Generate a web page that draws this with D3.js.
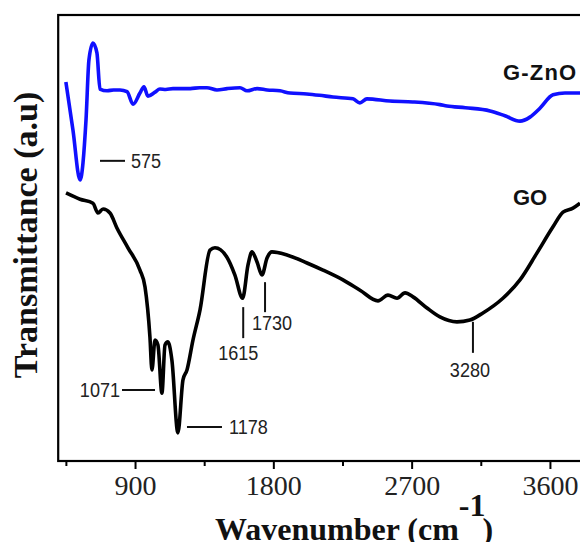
<!DOCTYPE html>
<html>
<head>
<meta charset="utf-8">
<script src="https://cdn.jsdelivr.net/npm/d3@7/dist/d3.min.js"></script>
<style>
  html, body { margin: 0; padding: 0; background: #fff; }
  svg { display: block; }
</style>
</head>
<body>
<svg id="chart" width="580" height="542"></svg>
<script>
// G-ZnO trace (wavenumber cm-1, transmittance a.u.)
const gznoW = [450, 496, 542, 581, 600, 626, 652, 672, 718, 760, 802, 848, 887, 932, 958, 984, 1030, 1062, 1100, 1147, 1200, 1260, 1320, 1368, 1433, 1500, 1583, 1629, 1694, 1760, 1843, 1908, 2018, 2100, 2188, 2318, 2363, 2409, 2559, 2708, 2884, 2930, 3050, 3210, 3307, 3405, 3470, 3535, 3620, 3698, 3796];
const gznoT = [85.0, 74.2, 63.0, 76.5, 89.9, 93.7, 91.5, 83.4, 83.0, 83.2, 83.2, 82.8, 80.0, 82.5, 83.9, 81.8, 82.7, 83.4, 83.3, 83.5, 83.5, 83.5, 83.7, 83.7, 83.2, 83.5, 83.7, 83.0, 83.5, 83.2, 83.0, 82.5, 82.3, 82.0, 81.6, 81.2, 80.3, 81.2, 80.7, 80.5, 79.9, 79.6, 79.2, 78.5, 77.4, 76.2, 77.1, 79.1, 82.1, 82.5, 82.5];

// GO trace
const goW = [451, 542, 626, 659, 692, 737, 783, 854, 932, 965, 997, 1010, 1030, 1049, 1075, 1095, 1114, 1140, 1179, 1212, 1238, 1277, 1323, 1388, 1420, 1498, 1550, 1600, 1635, 1661, 1694, 1726, 1759, 1791, 1889, 2019, 2123, 2253, 2364, 2481, 2546, 2605, 2657, 2709, 2800, 2884, 2995, 3079, 3164, 3294, 3405, 3515, 3620, 3685, 3750, 3796];
const goT = [60.1, 58.7, 57.8, 55.6, 56.5, 55.6, 52.2, 47.8, 42.8, 39.0, 27.8, 20.4, 27.1, 26.0, 15.2, 26.0, 26.7, 22.6, 6.3, 18.2, 20.4, 27.1, 33.9, 47.3, 47.8, 45.7, 41.7, 36.5, 43.9, 46.9, 44.6, 41.7, 45.5, 46.9, 46.2, 44.4, 42.8, 40.6, 38.3, 35.9, 37.2, 36.5, 37.7, 36.8, 34.3, 32.3, 31.2, 31.6, 33.2, 36.5, 40.6, 46.6, 52.5, 55.8, 56.7, 57.8];

// peak annotations: label and where the leader touches the trace
const peakLabels = ['575', '1071', '1178', '1615', '1730', '3280'];
const peakW = [672, 1030, 1238, 1604, 1746, 3099];
const peakT = [67.3, 15.9, 7.6, 34.5, 40.1, 31.2];
const peakDir = ['right', 'left', 'right', 'down', 'down', 'down'];

const majorTicks = [900, 1800, 2700, 3600];
const minorTicks = [450, 1350, 2250, 3150];

// leader geometry in px: line length, text dx, text dy
const annLayout = [
  { len: 25, dx: 6, dy: 7 },
  { len: 33, dx: -2, dy: 7 },
  { len: 35, dx: 7, dy: 7 },
  { len: 31, dx: -5, dy: 22 },
  { len: 30, dx: 7, dy: 18 },
  { len: 31, dx: -3, dy: 24 }
];

const svg = d3.select('#chart');
const x = d3.scaleLinear().domain([400, 4000]).range([58.2, 611.4]);
const y = d3.scaleLinear().domain([0, 100]).range([461, 15]);

const line = d3.line()
  .x(d => x(d[0]))
  .y(d => y(d[1]))
  .curve(d3.curveMonotoneX);

// frame
svg.append('rect')
  .attr('x', x(400)).attr('y', y(100))
  .attr('width', x(4000) - x(400)).attr('height', y(0) - y(100))
  .attr('fill', 'none').attr('stroke', '#000').attr('stroke-width', 2.2);

// bottom axis
const xAxis = d3.axisBottom(x).tickValues(majorTicks).tickSize(8).tickPadding(6).tickFormat(d3.format('d'));
const gx = svg.append('g').attr('transform', `translate(0,${y(0)})`).call(xAxis);
gx.select('.domain').remove();
gx.selectAll('line').attr('stroke', '#000').attr('stroke-width', 2);
gx.selectAll('text')
  .attr('font-family', '"Liberation Serif", "Times New Roman", serif')
  .attr('font-size', 28).attr('fill', '#222').attr('dy', '0.72em');
const gMinor = svg.append('g').attr('transform', `translate(0,${y(0)})`)
  .call(d3.axisBottom(x).tickValues(minorTicks).tickSize(5).tickFormat(''));
gMinor.select('.domain').remove();
gMinor.selectAll('line').attr('stroke', '#000').attr('stroke-width', 2);

// traces
svg.append('path')
  .datum(gznoW.map((w, i) => [w, gznoT[i]]))
  .attr('d', line).attr('fill', 'none')
  .attr('stroke', '#1010ff').attr('stroke-width', 3.6).attr('stroke-linejoin', 'round');
svg.append('path')
  .datum(goW.map((w, i) => [w, goT[i]]))
  .attr('d', line).attr('fill', 'none')
  .attr('stroke', '#000').attr('stroke-width', 3.6).attr('stroke-linejoin', 'round');

// peak leaders
peakLabels.forEach((lab, i) => {
  const px = x(peakW[i]), py = y(peakT[i]);
  const L = annLayout[i];
  let x1 = px, y1 = py, x2 = px, y2 = py, tx, ty, anchor;
  if (peakDir[i] === 'right') { x2 = px + L.len; tx = x2 + L.dx; ty = py + L.dy; anchor = 'start'; }
  else if (peakDir[i] === 'left') { x1 = px - L.len; tx = x1 + L.dx; ty = py + L.dy; anchor = 'end'; }
  else { y2 = py + L.len; tx = px + L.dx; ty = y2 + L.dy; anchor = 'middle'; }
  svg.append('line')
    .attr('x1', x1).attr('y1', y1).attr('x2', x2).attr('y2', y2)
    .attr('stroke', '#111').attr('stroke-width', 2);
  svg.append('text')
    .attr('transform', `translate(${tx},${ty}) scale(0.86,1)`)
    .attr('text-anchor', anchor)
    .attr('font-family', '"Liberation Sans", Arial, sans-serif')
    .attr('font-size', 21).attr('fill', '#222')
    .text(lab);
});

// series labels
svg.append('text').attr('x', 503).attr('y', 80)
  .attr('font-family', '"Liberation Sans", Arial, sans-serif').attr('font-weight', 'bold')
  .attr('font-size', 22).attr('letter-spacing', 1.2).attr('fill', '#111').text('G-ZnO');
svg.append('text').attr('x', 513).attr('y', 205)
  .attr('font-family', '"Liberation Sans", Arial, sans-serif').attr('font-weight', 'bold')
  .attr('font-size', 22).attr('fill', '#111').text('GO');

// axis titles
const xt = svg.append('text').attr('x', 215).attr('y', 540)
  .attr('font-family', '"Liberation Serif", "Times New Roman", serif')
  .attr('font-weight', 'bold').attr('font-size', 32).attr('fill', '#111');
xt.append('tspan').text('Wavenumber (cm');
xt.append('tspan').attr('dy', -24).text('-1');
xt.append('tspan').attr('dy', 24).attr('dx', -3).text(')');

svg.append('text')
  .attr('transform', 'translate(37,235) rotate(-90)')
  .attr('text-anchor', 'middle')
  .attr('font-family', '"Liberation Serif", "Times New Roman", serif')
  .attr('font-weight', 'bold').attr('font-size', 34).attr('fill', '#111')
  .text('Transmittance (a.u)');
</script>
</body>
</html>
